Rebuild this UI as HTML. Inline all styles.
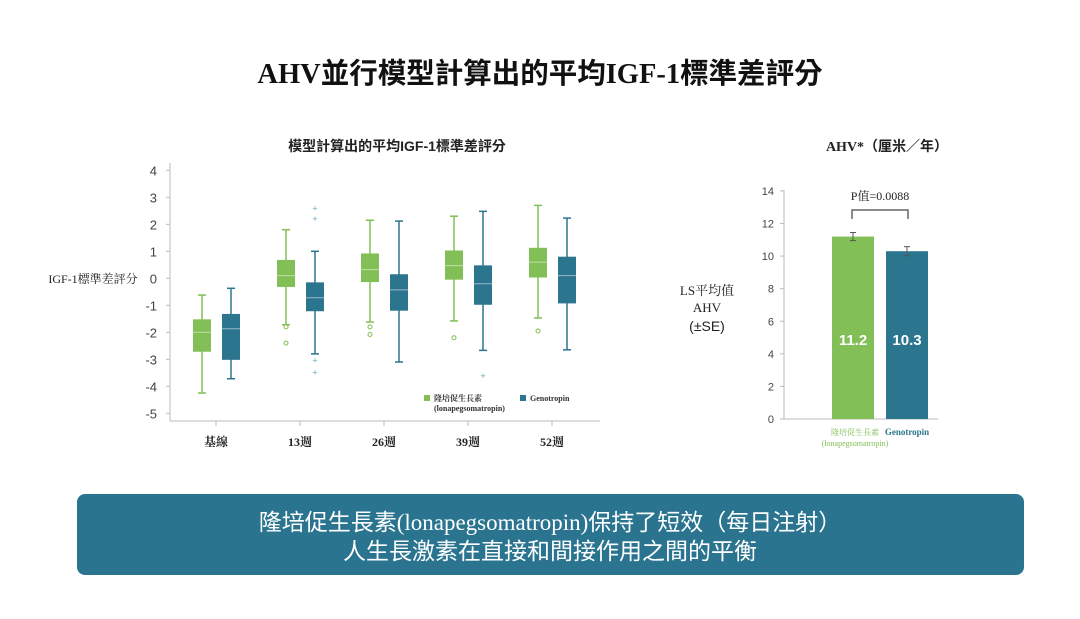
<!DOCTYPE html>
<html><head><meta charset="utf-8"><style>
body{margin:0;width:1080px;height:614px;background:#fff;overflow:hidden;font-family:"Liberation Sans","Noto Sans CJK TC",sans-serif}
</style></head><body>
<svg id="svg" width="1080" height="614" xmlns="http://www.w3.org/2000/svg">
<text x="540" y="83" text-anchor="middle" font-family="Liberation Serif,'Noto Sans CJK TC',sans-serif" font-weight="bold" font-size="28.5" fill="#111">AHV並行模型計算出的平均IGF-1標準差評分</text>
<text x="397" y="151" text-anchor="middle" font-size="14" font-weight="bold" fill="#222">模型計算出的平均IGF-1標準差評分</text>
<text x="93" y="283" text-anchor="middle" font-family="Liberation Serif,'Noto Serif CJK SC',serif" font-size="12" fill="#222">IGF-1標準差評分</text>
<g id="box"></g>
<text x="887" y="151" text-anchor="middle" font-family="Liberation Serif,'Noto Sans CJK TC',sans-serif" font-size="14" font-weight="bold" fill="#222">AHV*（厘米／年）</text>
<g font-family="Liberation Serif,'Noto Serif CJK SC',serif" font-size="13" fill="#222" text-anchor="middle">
<text x="707" y="295">LS平均值</text><text x="707" y="312">AHV</text>
<text x="707" y="331" font-family="Liberation Sans,sans-serif" font-size="14">(±SE)</text></g>
<g id="bar"></g>
<rect x="77" y="494" width="947" height="81" rx="8" fill="#2a7490"/>
<text x="550" y="530" text-anchor="middle" font-family="Liberation Serif,'Noto Sans CJK TC',sans-serif" font-size="23" fill="#fff">隆培促生長素(lonapegsomatropin)保持了短效（每日注射）</text>
<text x="550" y="559" text-anchor="middle" font-family="Liberation Serif,'Noto Sans CJK TC',sans-serif" font-size="23" fill="#fff">人生長激素在直接和間接作用之間的平衡</text>
</svg>
<script>
const categories=["基線","13週","26週","39週","52週"];
const greenStats=[[-4.25,-2.72,-2.0,-1.52,-0.62],[-1.72,-0.32,0.1,0.68,1.8],[-1.62,-0.14,0.32,0.92,2.15],[-1.58,-0.05,0.47,1.03,2.3],[-1.47,0.03,0.6,1.13,2.7]];
const blueStats=[[-3.72,-3.02,-1.87,-1.32,-0.37],[-2.8,-1.22,-0.72,-0.15,1.0],[-3.1,-1.2,-0.43,0.15,2.12],[-2.67,-0.98,-0.2,0.48,2.48],[-2.65,-0.93,0.1,0.8,2.23]];
const greenOutliers=[[],[-1.8,-2.4],[-1.8,-2.08],[-2.2],[-1.95]];
const blueOutliers=[[],[2.58,2.2,-3.05,-3.48],[],[-3.62],[]];
const yTicks=[4,3,2,1,0,-1,-2,-3,-4,-5];
const barLabels=["隆培促生長素","Genotropin"];
const barValues=[11.2,10.3];
const barErrors=[0.25,0.28];
const barTicks=[0,2,4,6,8,10,12,14];
const NS="http://www.w3.org/2000/svg";
function mk(p,t,a,txt){const e=document.createElementNS(NS,t);for(const k in a)e.setAttribute(k,a[k]);if(txt!==undefined)e.textContent=txt;p.appendChild(e);return e;}
const G="#82bf56",B="#2c758f";
const box=document.getElementById('box');
const y=v=>278.3-v*27;
const cx=i=>216+i*84;
mk(box,'line',{x1:170,y1:163,x2:170,y2:421,stroke:'#bbb'});
mk(box,'line',{x1:170,y1:421,x2:600,y2:421,stroke:'#bbb'});
yTicks.forEach(t=>{
 const tl=mk(box,'text',{x:157,y:y(t)+5,'text-anchor':'end','font-size':13,fill:'#444'},String(t));
 
 mk(box,'line',{x1:166,y1:y(t),x2:170,y2:y(t),stroke:'#bbb'});
});
categories.forEach((c,i)=>{
 mk(box,'line',{x1:cx(i),y1:421,x2:cx(i),y2:426,stroke:'#bbb'});
 const tl=mk(box,'text',{x:cx(i),y:446,'text-anchor':'middle','font-size':12,'font-weight':'bold','font-family':"Liberation Serif,'Noto Serif CJK SC',serif",fill:'#222'},c);
 
 [[greenStats,greenOutliers,G,-14,'green'],[blueStats,blueOutliers,B,15,'blue']].forEach(([S,O,col,off,nm])=>{
  const s=S[i],x=cx(i)+off,w=18;
  const g=mk(box,'g',{});
  
  
  mk(g,'line',{x1:x,y1:y(s[0]),x2:x,y2:y(s[4]),stroke:col,'stroke-width':1.5});
  mk(g,'line',{x1:x-4,y1:y(s[0]),x2:x+4,y2:y(s[0]),stroke:col,'stroke-width':1.5});
  mk(g,'line',{x1:x-4,y1:y(s[4]),x2:x+4,y2:y(s[4]),stroke:col,'stroke-width':1.5});
  mk(g,'rect',{x:x-w/2,y:y(s[3]),width:w,height:y(s[1])-y(s[3]),fill:col});
  mk(g,'line',{x1:x-w/2,y1:y(s[2]),x2:x+w/2,y2:y(s[2]),stroke:'rgba(255,255,255,0.5)','stroke-width':1});
  O[i].forEach(o=>{
   if(nm=='green')mk(g,'circle',{cx:x,cy:y(o),r:2,fill:'none',stroke:col});
   else mk(g,'text',{x:x,y:y(o)+3,'text-anchor':'middle','font-size':9,fill:'#6aa8bd'},'+');
  });
 });
});
mk(box,'rect',{x:424,y:395,width:6,height:6,fill:G});
const l1=mk(box,'text',{x:434,y:401,'font-size':8,'font-weight':'bold','font-family':"Liberation Serif,'Noto Serif CJK SC',serif",fill:'#333'},'隆培促生長素');

mk(box,'text',{x:434,y:411,'font-size':8,'font-weight':'bold','font-family':"Liberation Serif,serif",fill:'#333'},'(lonapegsomatropin)');
mk(box,'rect',{x:520,y:395,width:6,height:6,fill:B});
const l2=mk(box,'text',{x:530,y:401,'font-size':8,'font-weight':'bold','font-family':"Liberation Serif,serif",fill:'#333'},'Genotropin');

const bar=document.getElementById('bar');
const by=v=>419-v*16.29;
mk(bar,'line',{x1:784,y1:190,x2:784,y2:419,stroke:'#bbb'});
mk(bar,'line',{x1:784,y1:419,x2:938,y2:419,stroke:'#bbb'});
barTicks.forEach(t=>{
 const tl=mk(bar,'text',{x:774,y:by(t)+4,'text-anchor':'end','font-size':11,fill:'#444'},String(t));
 
 mk(bar,'line',{x1:780,y1:by(t),x2:784,y2:by(t),stroke:'#bbb'});
});
const bx=[853,907],cols=[G,B];
barValues.forEach((v,i)=>{
 const r=mk(bar,'rect',{x:bx[i]-21,y:by(v),width:42,height:419-by(v),fill:cols[i]});
 
 const e=barErrors[i];
 mk(bar,'line',{x1:bx[i],y1:by(v+e),x2:bx[i],y2:by(v-e),stroke:'#555'});
 mk(bar,'line',{x1:bx[i]-3,y1:by(v+e),x2:bx[i]+3,y2:by(v+e),stroke:'#555'});
 mk(bar,'line',{x1:bx[i]-3,y1:by(v-e),x2:bx[i]+3,y2:by(v-e),stroke:'#555'});
 mk(bar,'text',{x:bx[i],y:345,'text-anchor':'middle','font-size':15,'font-weight':'bold',fill:'#fff'},v.toFixed(1));
});
mk(bar,'path',{d:'M852,219 V210 H908 V219',fill:'none',stroke:'#666','stroke-width':1.5});
mk(bar,'text',{x:880,y:200,'text-anchor':'middle','font-size':12,'font-family':"Liberation Serif,'Noto Serif CJK SC',serif",fill:'#222'},'P值=0.0088');
mk(bar,'text',{x:855,y:435,'text-anchor':'middle','font-size':8,'font-family':"Liberation Serif,'Noto Serif CJK SC',serif",fill:G},barLabels[0]);
mk(bar,'text',{x:855,y:446,'text-anchor':'middle','font-size':8,'font-family':"Liberation Serif,serif",fill:G},'(lonapegsomatropin)');
mk(bar,'text',{x:907,y:435,'text-anchor':'middle','font-size':9,'font-weight':'bold','font-family':"Liberation Serif,serif",fill:B},barLabels[1]);
</script>
</body></html>
